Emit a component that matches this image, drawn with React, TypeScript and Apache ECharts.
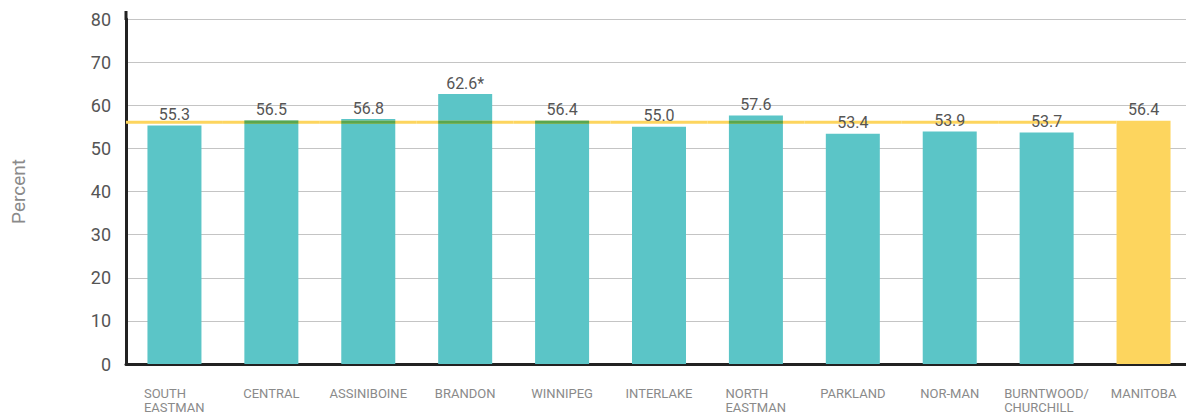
import React, { useEffect, useRef } from "react";
import * as echarts from "echarts";

const categories = [
  "SOUTH\nEASTMAN",
  "CENTRAL",
  "ASSINIBOINE",
  "BRANDON",
  "WINNIPEG",
  "INTERLAKE",
  "NORTH\nEASTMAN",
  "PARKLAND",
  "NOR-MAN",
  "BURNTWOOD/\nCHURCHILL",
  "MANITOBA",
];
const values = [55.3, 56.5, 56.8, 62.6, 56.4, 55.0, 57.6, 53.4, 53.9, 53.7, 56.4];
const labelSuffix = ["", "", "", "*", "", "", "", "", "", "", ""];
const yMin = 0;
const yMax = 80;
const yInterval = 10;
const yAxisTitle = "Percent";

const TEAL = "#5bc5c7";
const YELLOW = "#fdd55e";
const GREEN = "#5aa64e";
const FONT = "Roboto";
const BAR_W = 54;
const X_FONT = 13;

function measure(text: string, size: number): number {
  const c = document.createElement("canvas");
  const ctx = c.getContext("2d");
  if (!ctx) return text.length * size * 0.6;
  ctx.font = `${size}px ${FONT}`;
  return ctx.measureText(text).width;
}

export default function App() {
  const ref = useRef<HTMLDivElement>(null);

  useEffect(() => {
    if (!ref.current) return;
    const chart = echarts.init(ref.current, null, { renderer: "svg" });
    const last = values.length - 1;
    const lineValue = values[last];

    const rich: Record<string, any> = {};
    const keyFor: Record<string, string> = {};
    categories.forEach((c, i) => {
      if (c.includes("\n")) {
        const w = Math.ceil(Math.max(...c.split("\n").map((l) => measure(l, X_FONT))));
        const key = "m" + i;
        keyFor[c] = key;
        rich[key] = { width: w, align: "left", lineHeight: 14, fontSize: X_FONT, color: "#8a8a8a", fontFamily: FONT };
      }
    });

    const option: any = {
      animation: false,
      textStyle: { fontFamily: FONT },
      grid: { left: 126, width: 1066, top: 19, height: 345, outerBoundsMode: "none", containLabel: false },
      xAxis: {
        type: "category",
        data: categories,
        axisLine: { show: true, lineStyle: { color: "#222", width: 3 } },
        axisTick: { show: false },
        axisLabel: {
          interval: 0,
          margin: 22,
          fontSize: X_FONT,
          lineHeight: 14,
          color: "#8a8a8a",
          fontFamily: FONT,
          formatter: (v: string) => {
            const k = keyFor[v];
            if (!k) return v;
            return v
              .split("\n")
              .map((l) => `{${k}|${l}}`)
              .join("\n");
          },
          rich,
        },
      },
      yAxis: {
        type: "value",
        min: yMin,
        max: yMax,
        interval: yInterval,
        axisLine: { show: true, lineStyle: { color: "#222", width: 3 } },
        axisTick: { show: false },
        axisLabel: { color: "#555", fontSize: 18, margin: 15, fontFamily: FONT },
        splitLine: { lineStyle: { color: "#c4c4c4", width: 1 } },
      },
      graphic: [
        { type: "rect", shape: { x: 124.5, y: 11, width: 3, height: 9 }, style: { fill: "#222" }, silent: true },
        {
          type: "text",
          x: 18,
          y: 191.5,
          rotation: Math.PI / 2,
          silent: true,
          style: {
            text: yAxisTitle,
            fill: "#8a8a8a",
            fontSize: 19,
            fontFamily: FONT,
            align: "center",
            verticalAlign: "middle",
          },
        },
      ],
      series: [
        {
          type: "bar",
          barWidth: BAR_W,
          z: 2,
          data: values.map((v, i) => ({
            value: v,
            itemStyle: { color: i === last ? YELLOW : TEAL },
          })),
        },
        {
          type: "custom",
          z: 5,
          silent: true,
          data: values.slice(0, last).map((v, i) => [categories[i], v]),
          encode: { x: 0, y: 1 },
          renderItem: (params: any, api: any) => {
            const i = api.value(0);
            const v = api.value(1);
            const band = api.size([1, 0])[0];
            const c = api.coord([i, v]);
            const lineY = api.coord([i, lineValue])[1];
            const cs = params.coordSys;
            const n = last;
            const x0 = i === 0 ? cs.x : c[0] - band / 2;
            const x1 = i === n - 1 ? api.coord([i + 1, lineValue])[0] - BAR_W / 2 : c[0] + band / 2;
            const th = 3;
            const children: any[] = [
              { type: "rect", shape: { x: x0, y: lineY, width: x1 - x0, height: th }, style: { fill: YELLOW } },
            ];
            if (c[1] < lineY + th) {
              const top = Math.max(c[1], lineY);
              children.push({
                type: "rect",
                shape: { x: c[0] - BAR_W / 2, y: top, width: BAR_W, height: lineY + th - top },
                style: { fill: GREEN },
              });
            }
            return { type: "group", children };
          },
        },
        {
          type: "bar",
          barWidth: BAR_W,
          barGap: "-100%",
          z: 10,
          silent: true,
          itemStyle: { color: "rgba(0,0,0,0)" },
          data: values.slice(),
          label: {
            show: true,
            position: "top",
            distance: 3,
            fontSize: 16,
            color: "#555",
            fontFamily: FONT,
            formatter: (p: any) => values[p.dataIndex].toFixed(1) + labelSuffix[p.dataIndex],
          },
        },
      ],
    };
    chart.setOption(option);
    return () => chart.dispose();
  }, []);

  return (
    <div
      ref={ref}
      style={{ position: "fixed", left: 0, top: 0, width: 1186, height: 415, background: "#fff" }}
    />
  );
}
